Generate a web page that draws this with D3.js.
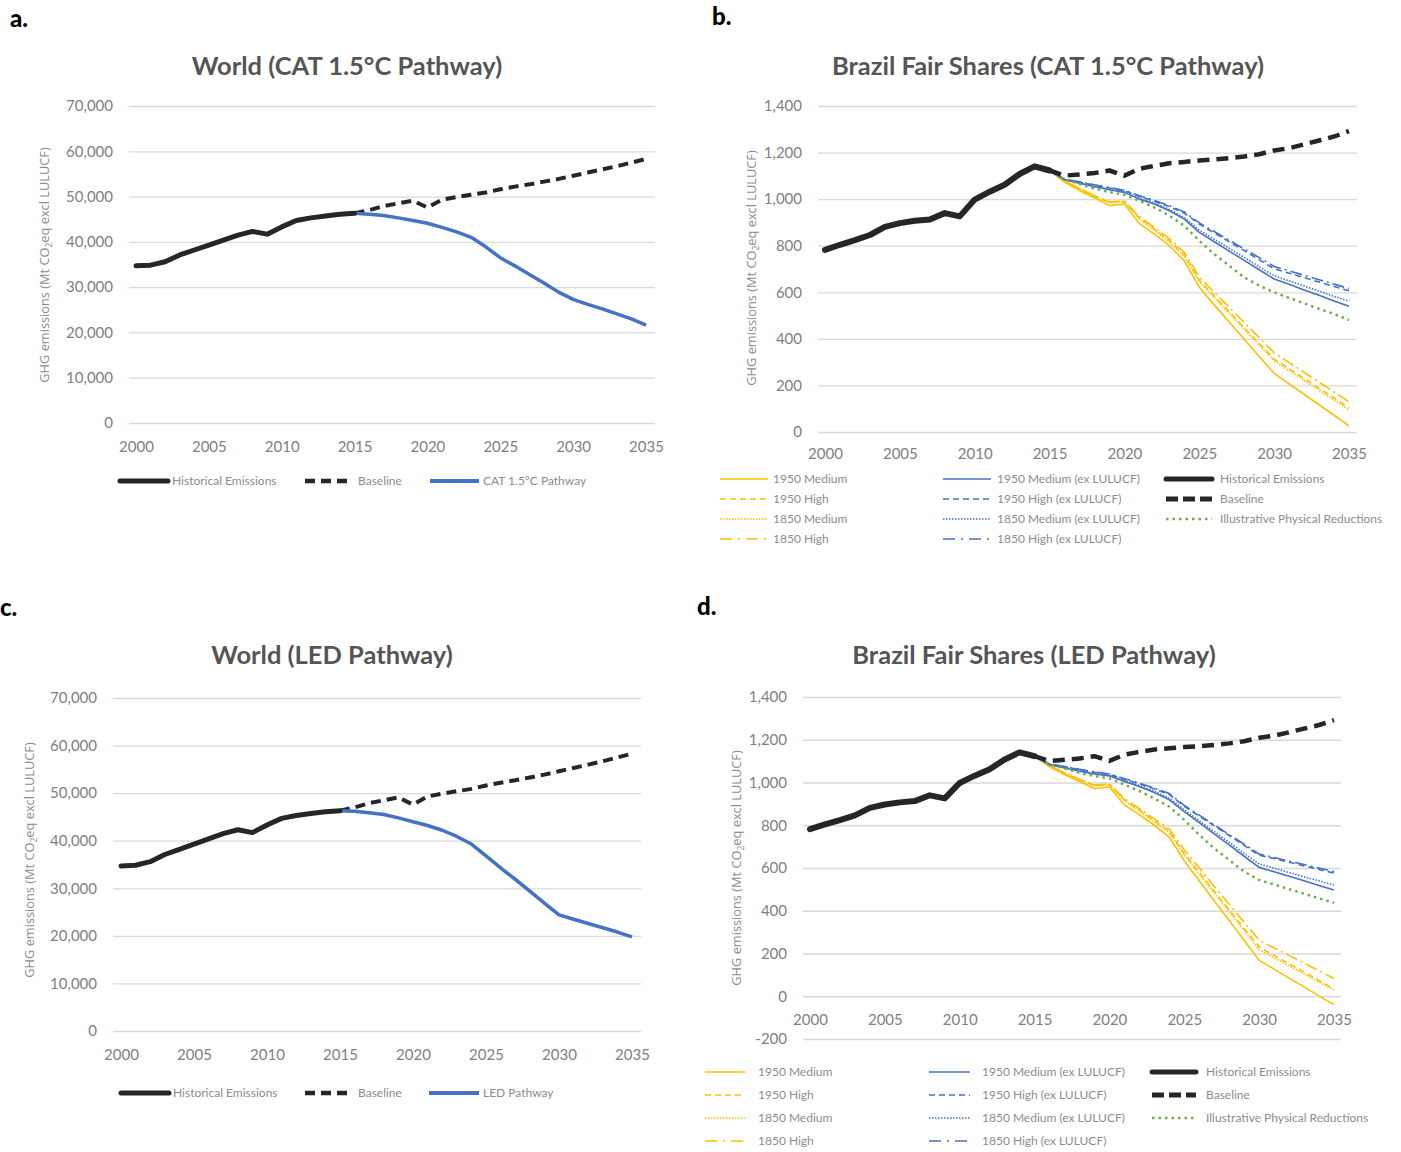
<!DOCTYPE html>
<html><head><meta charset="utf-8">
<script src="https://cdn.jsdelivr.net/npm/d3@7"></script>
<style>
body{margin:0;background:#fff;}
svg{display:block;}
.tick text{font-family:Lato,"Source Sans Pro",sans-serif;font-weight:400;fill:#808080;}
</style></head>
<body><svg id="c" width="1401" height="1152"></svg>
<script>
// ---------- DATA ----------
const yearsHist = [2000,2001,2002,2003,2004,2005,2006,2007,2008,2009,2010,2011,2012,2013,2014,2015];
const yearsProj = [2015,2016,2017,2018,2019,2020,2021,2022,2023,2024,2025,2026,2027,2028,2029,2030,2031,2032,2033,2034,2035];
const xTickYears = [2000,2005,2010,2015,2020,2025,2030,2035];
const worldTicks = [0,10000,20000,30000,40000,50000,60000,70000];
const brazilTicksB = [0,200,400,600,800,1000,1200,1400];
const brazilTicksD = [-200,0,200,400,600,800,1000,1200,1400];

// World (Mt CO2eq)
const worldHist = [34700,34850,35600,37100,38200,39300,40400,41500,42300,41700,43300,44700,45300,45700,46100,46300];
const worldBaseline = [46300,47000,47900,48500,49100,47600,49300,49900,50400,50900,51600,52200,52700,53300,53900,54600,55300,56000,56700,57500,58300];
const worldCAT = [46300,46100,45800,45300,44700,44100,43200,42200,41000,38900,36500,34700,32800,30900,28900,27300,26200,25200,24100,23000,21600];
const worldLED = [46300,46200,45900,45500,44800,44000,43200,42200,40900,39300,36800,34300,31900,29400,26900,24400,23500,22600,21700,20800,19800];

// Brazil (Mt CO2eq)
const brazilHist = [782,804,824,846,881,897,907,913,940,926,998,1032,1062,1108,1141,1123];
const brazilBaseline = [1123,1101,1106,1112,1123,1101,1130,1143,1154,1160,1166,1170,1176,1183,1193,1209,1219,1235,1252,1269,1292];

// Panel b (CAT 1.5°C)
const b_1950Med   = [1123,1073,1037,1005,972,979,895,850,800,735,622,546,472,398,324,252,207,162,117,72,26];
const b_1950High  = [1123,1077,1045,1013,987,990,920,872,822,762,652,584,516,448,380,314,272,230,188,146,104];
const b_1850Med   = [1123,1076,1043,1010,984,988,915,866,815,755,645,577,509,441,373,305,263,221,179,137,95];
const b_1850High  = [1123,1078,1047,1015,989,992,925,878,830,772,665,600,535,470,405,340,298,256,214,172,130];
const b_1950MedX  = [1123,1083,1068,1053,1040,1029,1000,979,950,914,857,817,777,737,697,657,634,610,587,563,540];
const b_1950HighX = [1123,1085,1073,1060,1048,1036,1012,991,968,940,893,855,817,779,740,701,682,663,644,625,606];
const b_1850MedX  = [1123,1084,1070,1056,1043,1032,1005,984,956,921,867,828,789,750,710,671,649,627,605,583,561];
const b_1850HighX = [1123,1086,1075,1062,1050,1038,1015,994,972,945,898,861,823,786,749,711,692,673,654,635,616];
const b_Physical  = [1123,1085,1065,1045,1030,1019,993,964,929,886,821,764,714,664,629,600,576,553,529,507,481];

// Panel d (LED)
const d_1950Med   = [1123,1073,1037,1005,972,979,895,850,800,745,633,540,447,354,261,168,127,85,44,2,-39];
const d_1950High  = [1123,1077,1045,1013,987,990,920,872,822,772,668,580,492,404,317,230,191,152,113,74,34];
const d_1850Med   = [1123,1076,1043,1010,984,988,915,866,815,765,660,572,484,396,306,218,180,142,104,66,29];
const d_1850High  = [1123,1078,1047,1015,989,992,925,878,830,782,685,600,515,430,346,262,226,190,155,119,83];
const d_1950MedX  = [1123,1083,1068,1053,1040,1031,1005,981,953,919,864,812,760,708,655,603,582,561,540,518,497];
const d_1950HighX = [1123,1085,1073,1060,1048,1038,1015,994,970,944,888,843,797,752,706,660,644,627,610,593,576];
const d_1850MedX  = [1123,1084,1070,1056,1043,1034,1009,986,959,927,872,821,770,720,669,619,599,579,559,540,520];
const d_1850HighX = [1123,1086,1075,1062,1050,1040,1018,997,974,948,893,847,802,756,711,665,649,632,616,600,583];
const d_Physical  = [1123,1085,1065,1045,1030,1019,990,960,925,887,825,755,692,638,583,544,523,501,480,458,437];

// ---------- DRAW ----------
const svg = d3.select("#c");
const GRAY = "#808080", BLACK = "#262626", BLUE = "#4472C4", YEL = "#FFC000", GREEN = "#70AD47";
const fmt = d => d3.format(",")(d).replace("\u2212","-");

function panel(cfg){
  const g = svg.append("g");
  const x = d3.scaleLinear().domain([2000,2035]).range([cfg.x0,cfg.x1]);
  const y = d3.scaleLinear().domain(cfg.yDomain).range([cfg.yB,cfg.yT]);
  const ya = d3.axisLeft(y).tickValues(cfg.yTicks).tickSize(-(cfg.g1-cfg.g0)).tickPadding(16).tickFormat(fmt);
  const yg = g.append("g").attr("transform",`translate(${cfg.g0},0)`).call(ya);
  yg.select(".domain").remove();
  yg.selectAll(".tick line").attr("stroke","#d9d9d9").attr("stroke-width",1.3);
  yg.selectAll(".tick text").attr("font-size",cfg.tickFs).attr("fill",GRAY);
  const xa = d3.axisBottom(x).tickValues(xTickYears).tickSize(0).tickPadding(cfg.xPad).tickFormat(d3.format("d"));
  const xg = g.append("g").attr("transform",`translate(0,${y(0)})`).call(xa);
  xg.select(".domain").remove();
  xg.selectAll(".tick text").attr("font-size",cfg.tickFs).attr("fill",GRAY);
  const t = g.append("text").attr("transform",`translate(${cfg.axX},${cfg.axY}) rotate(-90)`)
    .attr("text-anchor","middle").attr("font-family","'Open Sans',sans-serif").attr("font-size",12.8).attr("fill","#8c8c8c");
  t.append("tspan").text("GHG emissions (Mt CO");
  t.append("tspan").attr("font-size",8.5).attr("dy",3).text("2");
  t.append("tspan").attr("dy",-3).text("eq excl LULUCF)");
  g.append("text").attr("x",cfg.titleX).attr("y",cfg.titleY).attr("text-anchor","middle")
    .attr("font-family","Lato,sans-serif").attr("font-weight",700).attr("font-size",25.5).attr("fill","#555555").text(cfg.title);
  g.append("text").attr("x",cfg.letterX).attr("y",cfg.letterY).attr("font-family","Lato,sans-serif")
    .attr("font-weight",900).attr("font-size",24).attr("fill","#000").text(cfg.letter);
  return {g,x,y};
}

function drawLine(p, yrs, vals, st){
  const line = d3.line().x((d,i)=>p.x(yrs[i])).y(d=>p.y(d));
  p.g.append("path").datum(vals).attr("d",line).attr("fill","none")
    .attr("stroke",st.c).attr("stroke-width",st.w).attr("stroke-dasharray",st.dash||null)
    .attr("stroke-linejoin","round").attr("stroke-linecap",st.cap||"butt");
}

function legendItem(x0,x1,y,st,label,fs,gap){
  svg.append("line").attr("x1",x0).attr("x2",x1).attr("y1",y).attr("y2",y)
    .attr("stroke",st.c).attr("stroke-width",st.lw||st.w).attr("stroke-dasharray",st.ldash||st.dash||null)
    .attr("stroke-linecap",st.lcap||"butt");
  svg.append("text").attr("x",x1+gap).attr("y",y).attr("dy","0.35em")
    .attr("font-family","Lato,sans-serif").attr("font-weight",400).attr("font-size",fs).attr("fill","#8c8c8c").text(label);
}

const S = {
  histW:{c:BLACK,w:5,cap:"round",lw:5,lcap:"round"},
  baseW:{c:BLACK,w:4,dash:"10,6",ldash:"10,6",lw:4.5},
  pathW:{c:BLUE,w:3.5,lw:4},
  histB:{c:BLACK,w:6,cap:"round",lw:5,lcap:"round"},
  baseB:{c:BLACK,w:4.5,dash:"12,7",ldash:"12,5",lw:5},
  y1:{c:YEL,w:1.6}, y2:{c:YEL,w:1.6,dash:"6,4"}, y3:{c:YEL,w:1.6,dash:"1.5,1.5"}, y4:{c:YEL,w:1.6,dash:"12,4,2,4",ldash:"12,6,2,6"},
  b1:{c:BLUE,w:1.6}, b2:{c:BLUE,w:1.6,dash:"6,4"}, b3:{c:BLUE,w:1.6,dash:"1.5,1.5"}, b4:{c:BLUE,w:1.6,dash:"12,4,2,4",ldash:"12,6,2,6"},
  gr:{c:GREEN,w:2.5,dash:"2.5,4"}
};

// Panel a
const pa = panel({x0:136,x1:646,g0:129,g1:655,yDomain:[0,70000],yB:423,yT:106,yTicks:worldTicks,tickFs:15,xPad:18,
  axX:49,axY:265,title:"World (CAT 1.5°C Pathway)",titleX:347,titleY:75,letter:"a.",letterX:10,letterY:27});
drawLine(pa,yearsProj,worldBaseline,S.baseW);
drawLine(pa,yearsProj,worldCAT,S.pathW);
drawLine(pa,yearsHist,worldHist,S.histW);
legendItem(120,168,481,S.histW,"Historical Emissions",12,4);
legendItem(305,347,481,S.baseW,"Baseline",12,11);
legendItem(430,479,481,S.pathW,"CAT 1.5°C Pathway",12,4);

// Panel c
const pc = panel({x0:121,x1:632,g0:113,g1:641,yDomain:[0,70000],yB:1031,yT:698,yTicks:worldTicks,tickFs:15,xPad:18,
  axX:34,axY:860,title:"World (LED Pathway)",titleX:332,titleY:664,letter:"c.",letterX:0,letterY:616});
drawLine(pc,yearsProj,worldBaseline,S.baseW);
drawLine(pc,yearsProj,worldLED,S.pathW);
drawLine(pc,yearsHist,worldHist,S.histW);
legendItem(121,169,1093,S.histW,"Historical Emissions",12,4);
legendItem(305,347,1093,S.baseW,"Baseline",12,11);
legendItem(429,479,1093,S.pathW,"LED Pathway",12,4);

function brazil(p, series){
  const keys = ["y1","y2","y3","y4","b1","b2","b3","b4","gr"];
  keys.forEach((k,i)=>drawLine(p,yearsProj,series[i],S[k]));
  drawLine(p,yearsProj,brazilBaseline,S.baseB);
  drawLine(p,yearsHist,brazilHist,S.histB);
}
const legLabels = [["y1","1950 Medium"],["y2","1950 High"],["y3","1850 Medium"],["y4","1850 High"],
  ["b1","1950 Medium (ex LULUCF)"],["b2","1950 High (ex LULUCF)"],["b3","1850 Medium (ex LULUCF)"],["b4","1850 High (ex LULUCF)"],
  ["histB","Historical Emissions"],["baseB","Baseline"],["gr","Illustrative Physical Reductions"]];
function brazilLegend(cols, rows, fs){
  legLabels.forEach(([k,lab],i)=>{
    const c = cols[Math.floor(i/4)];
    legendItem(c[0],c[1],rows[i%4],S[k],lab,fs,c[2]);
  });
}

// Panel b
const pb = panel({x0:825,x1:1349,g0:818,g1:1357,yDomain:[0,1400],yB:432,yT:106,yTicks:brazilTicksB,tickFs:15,xPad:16,
  axX:756,axY:268,title:"Brazil Fair Shares (CAT 1.5°C Pathway)",titleX:1048,titleY:75,letter:"b.",letterX:712,letterY:25});
brazil(pb,[b_1950Med,b_1950High,b_1850Med,b_1850High,b_1950MedX,b_1950HighX,b_1850MedX,b_1850HighX,b_Physical]);
brazilLegend([[720,768,5],[943,991,6],[1166,1212,8]],[479,499,519,539],12);

// Panel d
const pd = panel({x0:810,x1:1334,g0:803,g1:1341,yDomain:[-200,1400],yB:1039,yT:697,yTicks:brazilTicksD,tickFs:15,xPad:18,
  axX:741,axY:868,title:"Brazil Fair Shares (LED Pathway)",titleX:1034,titleY:664,letter:"d.",letterX:697,letterY:615});
brazil(pd,[d_1950Med,d_1950High,d_1850Med,d_1850High,d_1950MedX,d_1950HighX,d_1850MedX,d_1850HighX,d_Physical]);
brazilLegend([[705,745,13],[929,970,12],[1152,1196,10]],[1072,1095,1118,1141],12);
</script></body></html>
